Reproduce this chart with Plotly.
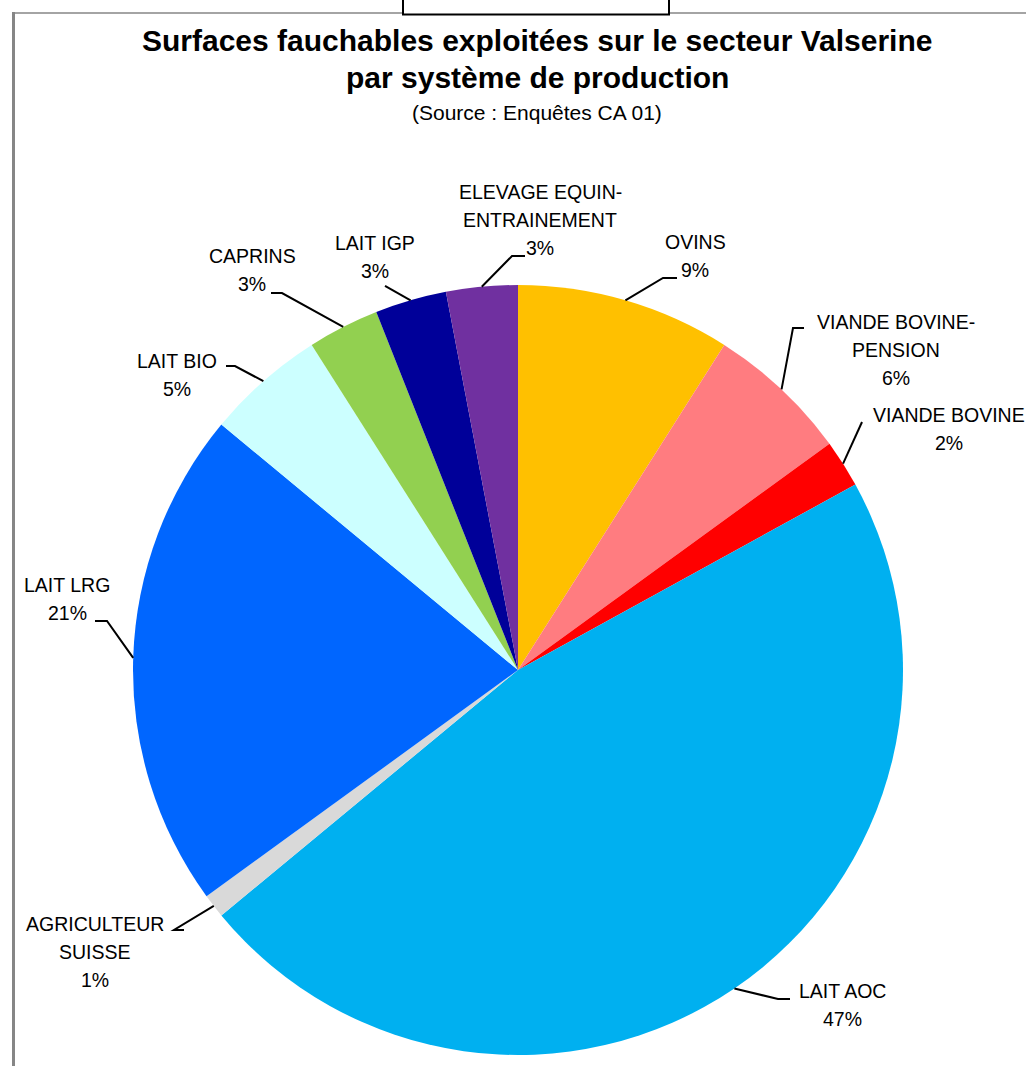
import math
import plotly.graph_objects as go

W, H = 1026, 1066

# Surfaces fauchables par système de production (parts en %)
categories = [
    "OVINS",
    "VIANDE BOVINE-PENSION",
    "VIANDE BOVINE",
    "LAIT AOC",
    "AGRICULTEUR SUISSE",
    "LAIT LRG",
    "LAIT BIO",
    "CAPRINS",
    "LAIT IGP",
    "ELEVAGE EQUIN-ENTRAINEMENT",
]
values = [9, 6, 2, 47, 1, 21, 5, 3, 3, 3]
label_lines = [
    ["OVINS"],
    ["VIANDE BOVINE-", "PENSION"],
    ["VIANDE BOVINE"],
    ["LAIT AOC"],
    ["AGRICULTEUR", "SUISSE"],
    ["LAIT LRG"],
    ["LAIT BIO"],
    ["CAPRINS"],
    ["LAIT IGP"],
    ["ELEVAGE EQUIN-", "ENTRAINEMENT"],
]
colors = [
    "#FFC000", "#FF7C80", "#FF0000", "#00B0F0", "#D9D9D9",
    "#0066FF", "#CCFFFF", "#92D050", "#000099", "#7030A0",
]

# Pie geometry in pixels
CX, CY, R = 518, 670, 385

# Label block centres (px) and the text-side points of each leader line (px)
label_pos = [
    (695, 256), (896, 350), (949, 429), (842, 1005), (95, 952),
    (67, 599), (177, 375), (252, 270), (375, 257), (540, 220),
]
leader_pts = [
    [(677, 278), (663, 278)],
    [(804, 328), (793, 328)],
    [(862, 422)],
    [(790, 999), (778, 999)],
    [(184, 930), (174, 930)],
    [(95, 621), (107, 621)],
    [(226, 366), (235, 366)],
    [(271, 293), (282, 293)],
    [(385, 286)],
    [(525, 256), (512, 256)],
]
LINE_STEP = 28  # px between label text lines

FONT = "Liberation Sans, Arial, sans-serif"


def px(x):
    return x / W


def py(y):
    return 1 - y / H


fig = go.Figure(
    go.Pie(
        labels=categories,
        values=values,
        sort=False,
        direction="clockwise",
        rotation=0,
        marker=dict(colors=colors, line=dict(width=0)),
        textinfo="none",
        hoverinfo="label+percent",
        domain=dict(x=[px(CX - R), px(CX + R)], y=[py(CY + R), py(CY - R)]),
        showlegend=False,
    )
)

total = sum(values)
annotations = []
shapes = []
cum = 0.0
for lines, v, (lx, ly), pts in zip(label_lines, values, label_pos, leader_pts):
    mid = (cum + v / 2) / total * 2 * math.pi
    cum += v
    ex = CX + R * math.sin(mid)
    ey = CY - R * math.cos(mid)
    pct = round(100 * v / total)
    rows = lines + [f"{pct}%"]
    n = len(rows)
    for i, row in enumerate(rows):
        y_row = ly + (i - (n - 1) / 2) * LINE_STEP
        annotations.append(dict(
            x=px(lx), y=py(y_row), xref="paper", yref="paper",
            text=row, showarrow=False,
            xanchor="center", yanchor="middle", align="center",
            font=dict(family=FONT, size=19.5, color="#000000"),
        ))
    path_pts = pts + [(ex, ey)]
    path = "M " + " L ".join(f"{px(x):.5f},{py(y):.5f}" for x, y in path_pts)
    shapes.append(dict(type="path", path=path, xref="paper", yref="paper",
                       line=dict(color="#000000", width=2)))

# Chart frame (top and left edges) and the box above it
shapes.append(dict(type="line", xref="paper", yref="paper",
                   x0=px(12), x1=px(W), y0=py(13), y1=py(13),
                   line=dict(color="#868686", width=1.5)))
shapes.append(dict(type="line", xref="paper", yref="paper",
                   x0=px(13.5), x1=px(13.5), y0=py(12), y1=py(H),
                   line=dict(color="#868686", width=3)))
shapes.append(dict(type="rect", xref="paper", yref="paper",
                   x0=px(403), x1=px(669), y0=py(-5), y1=py(14.5),
                   fillcolor="#FFFFFF", line=dict(color="#000000", width=2)))

title_font = dict(family=FONT, size=30, color="#000000")
annotations += [
    dict(x=px(537), y=py(41), xref="paper", yref="paper", showarrow=False,
         text="<b>Surfaces fauchables exploitées sur le secteur Valserine</b>",
         xanchor="center", yanchor="middle", font=title_font),
    dict(x=px(537), y=py(78), xref="paper", yref="paper", showarrow=False,
         text="<b>par système de production</b>",
         xanchor="center", yanchor="middle", font=title_font),
    dict(x=px(537), y=py(113), xref="paper", yref="paper", showarrow=False,
         text="(Source : Enquêtes CA 01)",
         xanchor="center", yanchor="middle",
         font=dict(family=FONT, size=21, color="#000000")),
]

fig.update_layout(
    width=W, height=H,
    margin=dict(l=0, r=0, t=0, b=0),
    paper_bgcolor="#FFFFFF",
    plot_bgcolor="#FFFFFF",
    annotations=annotations,
    shapes=shapes,
)

fig.write_html("out.html")
